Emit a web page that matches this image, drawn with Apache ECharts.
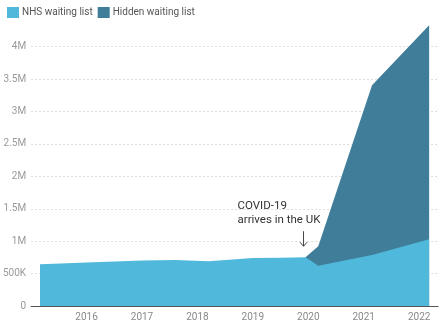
<!DOCTYPE html>
<html lang="en">
<head>
    <meta charset="UTF-8">
    <title>Waiting list</title>
    <style>
        html, body { margin: 0; padding: 0; background: #fff; }
    </style>
</head>
<body>
    <div id="main" style="width:440px;height:323px;"></div>
</body>
<script src="https://cdn.jsdelivr.net/npm/echarts@6/dist/echarts.min.js"></script>
<script>
    var main = echarts.init(document.getElementById('main'));

    // x positions in decimal years
    var years = [2015.16, 2016.0, 2017.0, 2017.6, 2018.2, 2019.0, 2019.5, 2019.95, 2020.18, 2021.15, 2022.18];
    var nhsList = [643000, 670000, 700000, 710000, 692000, 740000, 745000, 752000, 620000, 785000, 1030000];
    var hiddenList = [null, null, null, null, null, null, null, 0, 300000, 2620000, 3300000];
    var yearLabels = [2016, 2017, 2018, 2019, 2020, 2021, 2022];
    var covidAt = [2019.95, 752000];

    var fontFamily = 'Roboto, "Noto Sans", sans-serif';

    var nhsData = years.map(function (x, i) { return [x, nhsList[i]]; });
    // hidden list sits on top of the NHS list: plot the running total
    var totalData = [];
    years.forEach(function (x, i) {
        if (hiddenList[i] != null) totalData.push([x, nhsList[i] + hiddenList[i]]);
    });

    var option = {
        backgroundColor: '#fff',
        animation: false,
        textStyle: { fontFamily: fontFamily },
        legend: {
            left: 2,
            top: 2,
            icon: 'rect',
            itemWidth: 12,
            itemHeight: 11,
            itemGap: 5,
            textStyle: { color: '#555', fontSize: 10, padding: [0, 0, 0, -2] },
            data: ['NHS waiting list', 'Hidden waiting list']
        },
        grid: { left: 30, right: 2, top: 24, bottom: 17, containLabel: false },
        xAxis: {
            type: 'value',
            min: 2015,
            max: 2022.34,
            interval: 1,
            axisLine: { lineStyle: { color: '#555', width: 1.2 } },
            axisTick: { show: false },
            splitLine: { show: false },
            axisLabel: {
                color: '#888',
                fontSize: 10,
                margin: 6,
                showMinLabel: false,
                showMaxLabel: false,
                formatter: function (v) {
                    return yearLabels.indexOf(Math.round(v * 100) / 100) >= 0 ? String(v) : '';
                }
            }
        },
        yAxis: {
            type: 'value',
            min: 0,
            max: 4350000,
            interval: 500000,
            axisLine: { show: false },
            axisTick: { show: false },
            splitLine: { showMaxLine: false, lineStyle: { color: '#ddd', type: [2, 2] } },
            axisLabel: {
                color: '#999',
                fontSize: 10,
                margin: 5,
                showMaxLabel: false,
                formatter: function (v) {
                    if (v % 500000 !== 0) return '';
                    if (v === 0) return '0';
                    if (v < 1000000) return (v / 1000) + 'K';
                    return (v / 1000000) + 'M';
                }
            }
        },
        series: [{
            name: 'Hidden waiting list',
            type: 'line',
            symbol: 'none',
            color: '#3f7d99',
            lineStyle: { width: 0 },
            areaStyle: { color: '#3f7d99', opacity: 1 },
            z: 1,
            data: totalData
        }, {
            name: 'NHS waiting list',
            type: 'line',
            symbol: 'none',
            color: '#50b8db',
            lineStyle: { width: 0 },
            areaStyle: { color: '#50b8db', opacity: 1 },
            z: 2,
            data: nhsData
        }]
    };
    main.setOption(option);

    // COVID annotation anchored on the data point
    var p = main.convertToPixel({ gridIndex: 0 }, covidAt);
    var ax = p[0] - 2;
    main.setOption({
        graphic: [{
            type: 'text',
            left: p[0] - 68,
            top: p[1] - 58,
            style: {
                text: 'COVID-19\narrives in the UK',
                fill: '#333',
                font: '11.5px ' + fontFamily,
                lineHeight: 14
            }
        }, {
            type: 'line',
            shape: { x1: ax, y1: p[1] - 26, x2: ax, y2: p[1] - 11 },
            style: { stroke: '#444', lineWidth: 1 }
        }, {
            type: 'polyline',
            shape: { points: [[ax - 3.5, p[1] - 15], [ax, p[1] - 11], [ax + 3.5, p[1] - 15]] },
            style: { stroke: '#444', lineWidth: 1, fill: null }
        }]
    });
</script>
</html>
